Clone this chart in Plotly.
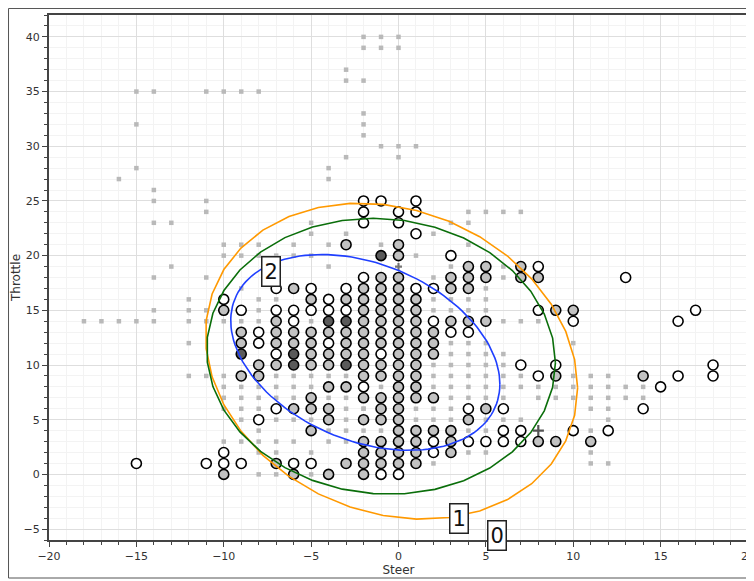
import numpy as np
import plotly.graph_objects as go

# ---------------- data ----------------
# circles: x, y, shade (w = white, g = light gray, d = dark)
circ_x = []
circ_y = []
circ_shade = []
circle_columns = {
    -15: "1w",
    -11: "1w",
    -10: "16w 15g 2w 1w 0g",
    -9: "15w 13g 12g 11d 9g 1w",
    -8: "13w 12w 10g 9g 5w",
    -7: "17w 15w 14g 13g 12g 11w 10g 6w 1g",
    -6: "17g 15w 14w 13g 12g 11d 10d 6g 1w 0g",
    -5: "17w 16g 15w 13g 12g 11g 10g 7g 6g 4g 1w",
    -4: "16w 15w 14d 13g 12w 11g 10g 8g 6g 5g 0g",
    -3: "21g 17w 16g 15w 14d 13g 12g 11g 10d 8g 1g",
    -2: "25w 24w 23w 18w 17g 16g 15g 14g 13g 12g 11g 10g 9g 8w 7g 5g 3g 2g 1g 0g",
    -1: "25w 20d 18g 17g 16g 15g 14g 13g 12g 11w 10g 9g 7g 6g 5g 3g 2g 1g 0w",
    0: "24w 23w 21g 20g 18g 17g 16g 15g 14g 13g 12g 11g 10g 9g 8g 7g 6g 5g 4g 3g 2g 1g 0w",
    1: "25w 24w 22w 17w 16g 15g 14g 13g 12g 11g 10g 9g 8g 7g 4g 3g 2g 1g",
    2: "17w 14w 13g 12g 11g 7g 4g 3w 2w",
    3: "20w 18g 17g 14g 13w 4g 3g 2g",
    4: "19g 18g 17g 14g 13w 6w 5g 3w",
    5: "19g 18g 14g 6g 3w",
    6: "6w 4w 3w",
    7: "19g 18g 10w 4w 3w",
    8: "19w 18g 15w 9w 3g",
    9: "15g 10w 9g 3g",
    10: "15g 14w 4w",
    11: "3g",
    12: "4w",
    13: "18w",
    14: "9g 6w",
    15: "8w",
    16: "14w 9w",
    17: "15w",
    18: "10w 9w",
}
for cx_, spec in circle_columns.items():
    for tok in spec.split():
        circ_x.append(cx_)
        circ_y.append(int(tok[:-1]))
        circ_shade.append(tok[-1])

# gray background points
sq_x = [-2, -1, 0, -2, -1, 0, -3, -3, -2, -2, -2, -2, -1, 0, 1, -3, 0, -4, -4,
        -15, -14, -11, -10, -9, -8, -15, -15, -16, -14, -14, -11, -11, -14, -13,
        -10, -9, -8, -6, -4, -10, -9, -8, -7, -6, -5, -5, -5, -3, -4, -13, -14, -11,
        -9, -12, -8, -7, -14, -12, -11, -8, -18, -17, -16, -15, -14, -12, -11, -10,
        -9, -8, -5, -12, -12, -11, -10,
        -7, -6, -5, -4, -3, -10, -9, -8, -7, -6, -5, -10, -9, -8, -7, -6, -4, -3,
        -10, -9, -8, -3, -2, -9, -7, -6, -5, -3, -8, -4, -3, -10, -9, -8, -7, -6,
        -4, -3, -8, -7, -5, -8, -7, -5,
        4, 5, 6, 7, 3, 4, 2, 4, -1, 1, 3, 6, 2, 6, 5, 2, 3, 4, 5, 2, 3, 4, 5, 6, 7, 8,
        3, 4, 5, 3, 4, 5, 6, 2, 3, 4, 5, 6, 2, 3, 4, 5, 6, 7, 10, 10, 11, 12,
        -1, 2, 3, 4, 5, 6, 7, 8, 9, 10, 11, 12, 13, 14,
        3, 4, 5, 6, 8, 9, 10, 11, 12, 13, 14,
        -2, 1, 2, 3, 11, 12,
        1, 2, 3, 5, 6, 7, 12,
        -2, -1, 4, 5, 11,
        4, 5, 11,
        2, 11, 12]
sq_y = [40, 40, 40, 39, 39, 39, 37, 36, 36, 33, 32, 31, 30, 30, 30, 29, 29, 28, 27,
        35, 35, 35, 35, 35, 35, 32, 28, 27, 26, 25, 25, 24, 23, 23,
        21, 21, 21, 21, 21, 20, 20, 20, 20, 20, 20, 23, 22, 22, 19, 19, 18, 18,
        17, 16, 16, 16, 15, 15, 15, 15, 14, 14, 14, 14, 14, 14, 14, 14,
        14, 14, 14, 12, 9, 9, 9,
        9, 9, 9, 9, 9, 8, 8, 8, 8, 8, 8, 7, 7, 7, 7, 7, 7, 7,
        6, 6, 6, 6, 6, 5, 5, 5, 5, 5, 4, 4, 4, 3, 3, 3, 3, 3,
        3, 3, 2, 2, 2, 0, 0, 0,
        24, 24, 24, 24, 23, 23, 22, 21, 21, 20, 19, 19, 18, 18, 17, 16, 16, 16, 16, 15, 15, 15, 15, 14, 14, 14,
        12, 12, 12, 11, 11, 11, 11, 10, 10, 10, 10, 10, 9, 9, 9, 9, 9, 9, 12, 9, 9, 9,
        8, 8, 8, 8, 8, 8, 8, 8, 8, 8, 8, 8, 8, 8,
        7, 7, 7, 7, 7, 7, 7, 7, 7, 7, 7,
        6, 6, 6, 6, 6, 6,
        5, 5, 5, 5, 5, 5, 5,
        4, 4, 4, 4, 4,
        2, 2, 2,
        1, 1, 1]

# cross markers
plus_x = [8, 0]
plus_y = [4, 19]
plus_size = [8, 5]
plus_color = ["#111111", "#444444"]

# ellipses: centre, x radius, y radius, y-shear
ell_names = ["1", "0", "2"]
ell_cx = [-0.4, -1.0, -1.9]
ell_cy = [10.35, 10.8, 11.15]
ell_ax = [10.65, 9.98, 7.7]
ell_ay = [14.24, 12.6, 8.47]
ell_dy = [-2.44, -0.6, -2.9]
ell_npts = [36, 36, 140]
ell_colors = ["#ff9900", "#0a6e0a", "#1f3fff"]

# labels
label_text = ["2", "1", "0"]
label_x = [-7.28, 3.44, 5.62]
label_y = [18.57, -4.0, -5.58]

x_ticks = [-20, -15, -10, -5, 0, 5, 10, 15, 20]
y_ticks = [-5, 0, 5, 10, 15, 20, 25, 30, 35, 40]

# ---------------- figure ----------------
shade_map = {"w": "#ffffff", "g": "#c2c2c2", "d": "#5a5a5a"}

fig = go.Figure()
fig.add_trace(go.Scatter(
    x=sq_x, y=sq_y, mode="markers",
    marker=dict(symbol="square", size=4.5, color="#b9b9b9", line=dict(width=0)),
    hoverinfo="skip", showlegend=False))

fig.add_trace(go.Scatter(
    x=circ_x, y=circ_y, mode="markers",
    marker=dict(symbol="circle", size=10,
                color=[shade_map[s] for s in circ_shade],
                line=dict(color="#000000", width=1.6)),
    showlegend=False))

fig.add_trace(go.Scatter(
    x=plus_x, y=plus_y, mode="markers",
    marker=dict(symbol="cross-thin", size=plus_size,
                line=dict(color=plus_color, width=2.2)),
    showlegend=False))

for i in range(len(ell_names)):
    t = np.linspace(0, 2 * np.pi, ell_npts[i])
    ex = ell_cx[i] + ell_ax[i] * np.cos(t)
    ey = ell_cy[i] + ell_ay[i] * np.sin(t) + ell_dy[i] * np.cos(t)
    fig.add_trace(go.Scatter(x=ex, y=ey, mode="lines",
                             line=dict(color=ell_colors[i], width=1.6),
                             name=ell_names[i], showlegend=False))

for txt, lx, ly in zip(label_text, label_x, label_y):
    fig.add_annotation(x=lx, y=ly, text=txt, showarrow=False,
                       font=dict(family="DejaVu Sans", size=21, color="#111"),
                       bgcolor="white", bordercolor="#222", borderwidth=1.5,
                       borderpad=2)

axis_common = dict(
    showline=True, linecolor="#444", linewidth=2, mirror=True,
    ticks="outside", ticklen=5, tickcolor="#444", tickwidth=1,
    showgrid=True, gridcolor="#dedede", gridwidth=1, zeroline=False,
    automargin=False, ticklabeloverflow="allow",
    tickfont=dict(family="DejaVu Sans", size=11, color="#333"),
    minor=dict(dtick=1, ticks="outside", ticklen=3, tickcolor="#444",
               showgrid=True, gridcolor="#f3f3f3"),
)

fig.update_xaxes(range=[-20, 20], tickvals=x_ticks,
                 title=dict(text="Steer", standoff=2,
                            font=dict(family="DejaVu Sans", size=12, color="#333")),
                 **axis_common)
fig.update_yaxes(range=[-6, 42], tickvals=y_ticks,
                 title=dict(text="Throttle", standoff=0,
                            font=dict(family="DejaVu Sans", size=12, color="#333")),
                 **axis_common)

# outer frame (figure is offset 8px by the page's body margin)
fig.add_shape(type="rect", xref="paper", yref="paper",
              x0=-0.0579, x1=1.0043, y0=-0.0724, y1=1.0124,
              line=dict(color="#555", width=1), layer="below")

fig.update_layout(
    width=746, height=573,
    margin=dict(l=41, r=6, t=7, b=41, autoexpand=False),
    paper_bgcolor="white", plot_bgcolor="white",
    showlegend=False,
)

fig.write_html("out.html")
